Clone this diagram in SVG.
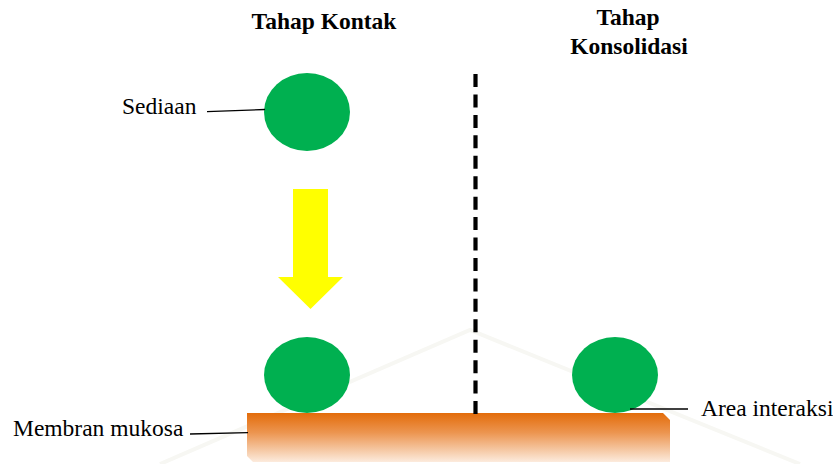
<svg xmlns="http://www.w3.org/2000/svg" width="833" height="464" viewBox="0 0 833 464">
  <defs>
    <linearGradient id="mucosa" x1="0" y1="0" x2="0" y2="1">
      <stop offset="0" stop-color="#E36C0A"/>
      <stop offset="0.4" stop-color="#EC9550"/>
      <stop offset="1" stop-color="#FCEBDD"/>
    </linearGradient>
  </defs>
  <style>
    .title { font-family: "Liberation Serif", "Times New Roman", serif; font-weight: bold; font-size: 23.5px; fill: #000; text-anchor: middle; }
    .label { font-family: "Liberation Serif", "Times New Roman", serif; font-size: 23.5px; fill: #000; }
    .drop { fill: #00B050; }
    .leader { stroke: #000; stroke-width: 1.3; fill: none; }
  </style>

  <rect width="833" height="464" fill="#FFFFFF"/>

  <!-- faint background watermark -->
  <g id="watermark" fill="none" stroke="#F7F7F3" stroke-width="4">
    <polyline points="160,464 470,330 800,464"/>
  </g>

  <!-- headings -->
  <g id="heading-contact">
    <text class="title" x="324" y="29">Tahap Kontak</text>
  </g>
  <g id="heading-consolidation">
    <text class="title" x="628" y="25">Tahap</text>
    <text class="title" x="629" y="54">Konsolidasi</text>
  </g>

  <!-- mucous membrane -->
  <g id="membrane">
    <polygon points="247,413 663,413 670,420 670,462 253,462 247,456" fill="url(#mucosa)"/>
  </g>

  <!-- dosage form drops -->
  <g id="drop-top">
    <ellipse class="drop" cx="307" cy="112" rx="43" ry="39"/>
  </g>
  <g id="drop-contact">
    <ellipse class="drop" cx="307" cy="375" rx="43" ry="38"/>
  </g>
  <g id="drop-consolidation">
    <ellipse class="drop" cx="615" cy="375" rx="43" ry="38"/>
  </g>

  <!-- movement arrow -->
  <g id="arrow-down">
    <polygon points="293,189 328,189 328,277 343,277 310.5,309 278,277 293,277" fill="#FFFF00"/>
  </g>

  <!-- stage divider -->
  <g id="divider">
    <line x1="475.5" y1="74" x2="475.5" y2="417" stroke="#000" stroke-width="4.2" stroke-dasharray="13 7.44"/>
  </g>

  <!-- labels -->
  <g id="label-sediaan">
    <text class="label" x="122" y="114">Sediaan</text>
  </g>
  <g id="label-membran">
    <text class="label" x="13" y="436">Membran mukosa</text>
  </g>
  <g id="label-area">
    <text class="label" x="701" y="416">Area interaksi</text>
  </g>

  <!-- leader lines -->
  <g id="connectors">
    <line class="leader" x1="207" y1="111.7" x2="265" y2="109.5"/>
    <line class="leader" x1="190" y1="434" x2="248" y2="432.7"/>
    <line class="leader" x1="630" y1="409" x2="688" y2="409"/>
  </g>
</svg>
